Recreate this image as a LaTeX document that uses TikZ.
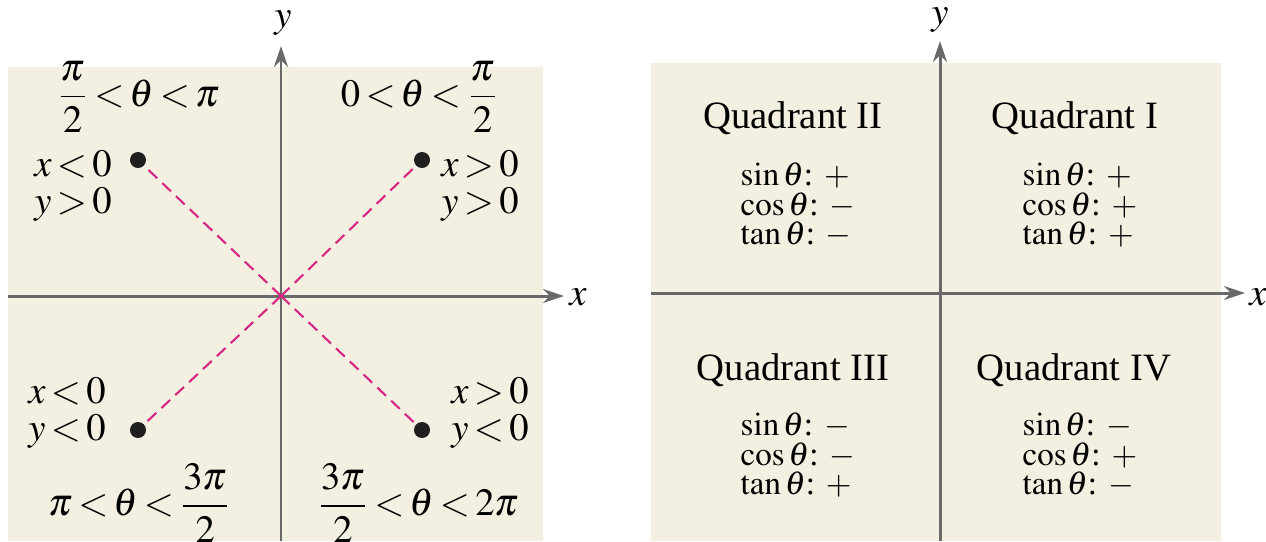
\documentclass[tikz,border=0pt]{standalone}
\usepackage{amsmath}
\usepackage{mathptmx}
\usepackage{fontspec}
\setmainfont{Liberation Serif}
\usetikzlibrary{arrows.meta}
\definecolor{bgbeige}{RGB}{243,240,226}
\definecolor{axisgray}{RGB}{105,105,105}
\definecolor{dashpink}{RGB}{214,40,130}
\thickmuskip=2.5mu plus 1mu
\tikzset{
  axisline/.style={axisgray, line width=0.85pt, -{Stealth[length=6pt,width=4pt,inset=2pt]}},
  ray/.style={dashpink, dash pattern=on 3.4pt off 2pt, line width=0.6pt},
  dotpt/.style={circle, fill=black!88, inner sep=0pt, minimum size=0.16cm},
  lbl/.style={font=\fontsize{11}{10.8}\selectfont, inner sep=0pt, align=left},
  quad/.style={font=\fontsize{11}{13}\selectfont, inner sep=0pt},
  sgn/.style={font=\fontsize{9.4}{8.5}\selectfont, align=left, anchor=west, inner sep=0pt},
}
\begin{document}
\begin{tikzpicture}[x=0.01cm, y=-0.01cm]
    \useasboundingbox (0,0) rectangle (1266,541);
    % 背景
    \fill[bgbeige] (8,67) rectangle (543,541);
    \fill[bgbeige] (651,63) rectangle (1221,541);

    % 左图: 坐标轴
    \coordinate (O1) at (281,296);
    \coordinate (y1s) at (281,541);
    \coordinate (y1e) at (281,46);
    \coordinate (x1s) at (8,296);
    \coordinate (x1e) at (564,296);
    \draw[axisline] (y1s) -- (y1e);
    \draw[axisline] (x1s) -- (x1e);
    \node[lbl] (ylab1) at (283,23) {$y$};
    \node[lbl] (xlab1) at (578,297) {$x$};

    % 左图: 点和虚线
    \node[dotpt] (p1) at (422,160) {};
    \node[dotpt] (p2) at (138,160) {};
    \node[dotpt] (p3) at (138,430) {};
    \node[dotpt] (p4) at (422,430) {};
    \foreach \p in {p1,p2,p3,p4}
        \draw[ray] (O1) -- (\p);

    % 左图: 角度范围
    \node[lbl] (ang1) at (420,97) {$0<\theta<\dfrac{\pi}{2}$};
    \node[lbl] (ang2) at (138,97) {$\dfrac{\pi}{2}<\theta<\pi$};
    \node[lbl] (ang3) at (140,503) {$\pi<\theta<\dfrac{3\pi}{2}$};
    \node[lbl] (ang4) at (418,503) {$\dfrac{3\pi}{2}<\theta<2\pi$};

    % 左图: 坐标符号
    \node[lbl] (sg1) at (480,186) {$x>0$\\$y>0$};
    \node[lbl] (sg2) at (73,186) {$x<0$\\$y>0$};
    \node[lbl] (sg3) at (67,413) {$x<0$\\$y<0$};
    \node[lbl] (sg4) at (490,413) {$x>0$\\$y<0$};

    % 右图: 坐标轴
    \coordinate (y2s) at (940,541);
    \coordinate (y2e) at (940,41);
    \coordinate (x2s) at (651,293);
    \coordinate (x2e) at (1245,293);
    \draw[axisline] (y2s) -- (y2e);
    \draw[axisline] (x2s) -- (x2e);
    \node[lbl] (ylab2) at (940,20) {$y$};
    \node[lbl] (xlab2) at (1258,297) {$x$};

    % 右图: 象限
    \node[quad] (q1) at (1075,118) {Quadrant I};
    \node[quad] (q2) at (793,118) {Quadrant II};
    \node[quad] (q3) at (793,370) {Quadrant III};
    \node[quad] (q4) at (1074,370) {Quadrant IV};
    \node[sgn] (s1) at (1022,205) {$\sin\theta$: $+$\\$\cos\theta$: $+$\\$\tan\theta$: $+$};
    \node[sgn] (s2) at (740,205) {$\sin\theta$: $+$\\$\cos\theta$: $-$\\$\tan\theta$: $-$};
    \node[sgn] (s3) at (740,455) {$\sin\theta$: $-$\\$\cos\theta$: $-$\\$\tan\theta$: $+$};
    \node[sgn] (s4) at (1022,455) {$\sin\theta$: $-$\\$\cos\theta$: $+$\\$\tan\theta$: $-$};
\end{tikzpicture}
\end{document}
